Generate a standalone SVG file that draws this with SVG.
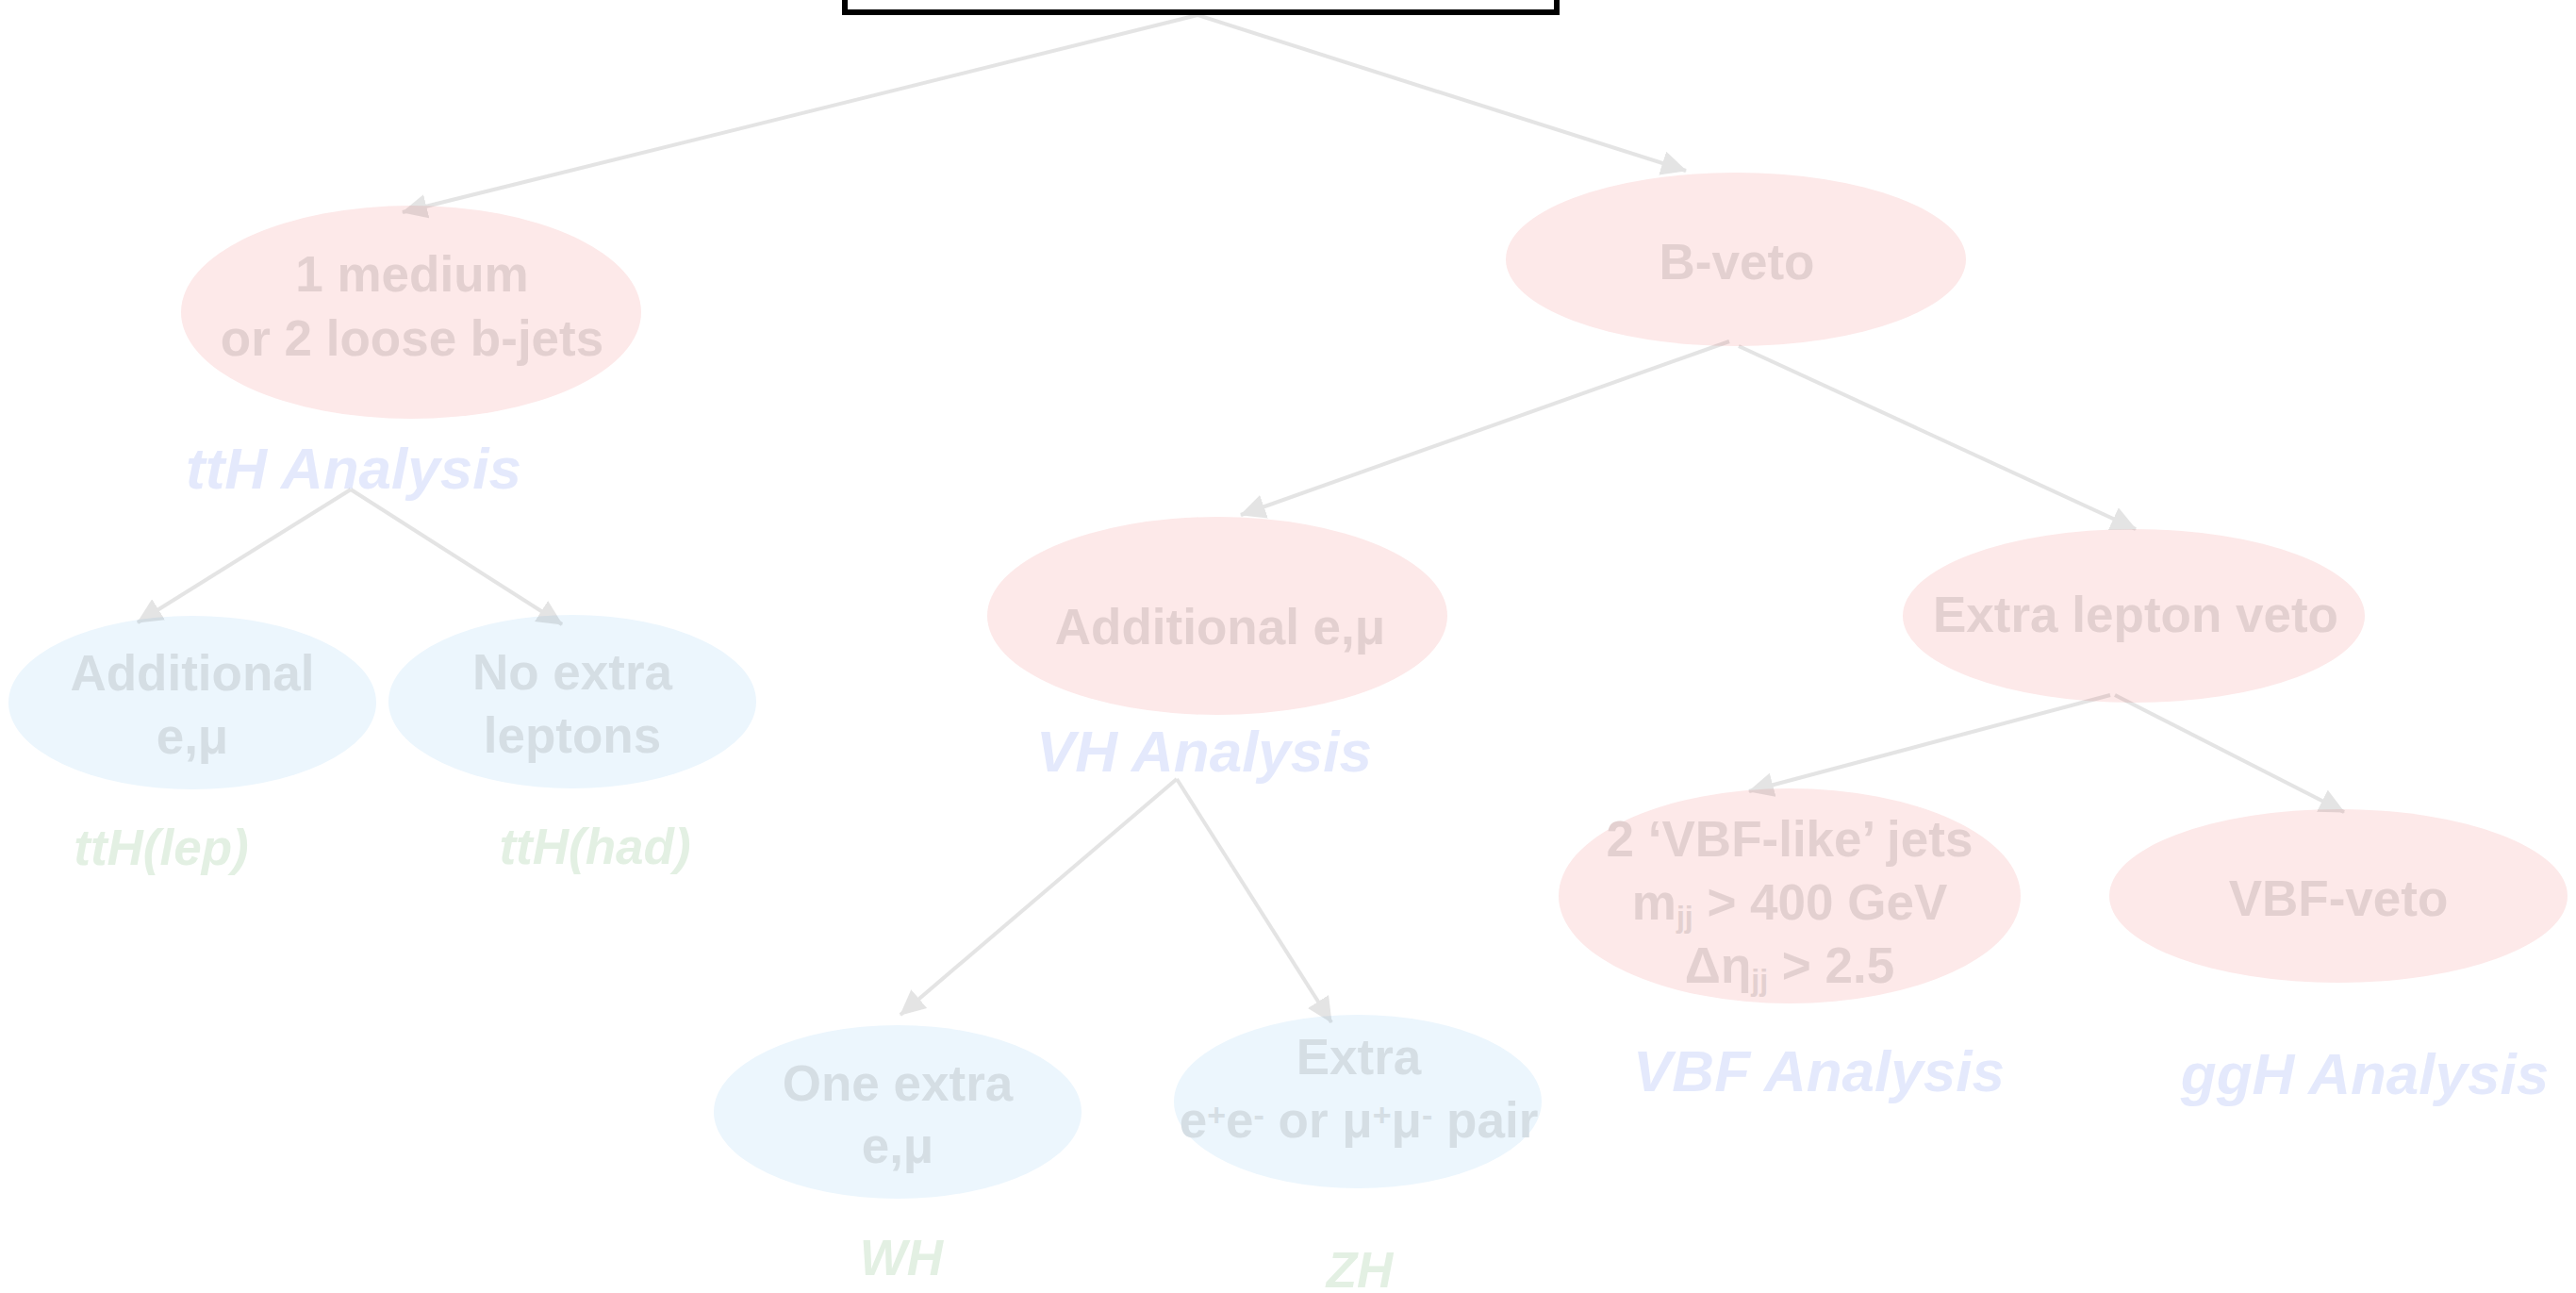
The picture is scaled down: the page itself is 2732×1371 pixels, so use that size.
<svg xmlns="http://www.w3.org/2000/svg" width="2732" height="1371" viewBox="0 0 2732 1371">
  <defs>
    <marker id="arrow" viewBox="0 0 27 26" markerUnits="userSpaceOnUse" markerWidth="27" markerHeight="26" refX="26" refY="13" orient="auto">
      <path d="M0,0 L27,13 L0,26 z" fill="#000"/>
    </marker>
    <style>
      text { font-family: "Liberation Sans", Arial, Helvetica, sans-serif; font-weight: bold; text-anchor: middle; }
      .cut { fill: #fde9e9; }
      .lep { fill: #ecf6fd; }
      .tcut { font-size: 53px; fill: #e3d0d0; }
      .tlep { font-size: 53px; fill: #d5dee4; }
      .ana { font-size: 62px; font-style: italic; fill: #e4e9fc; }
      .chan { font-size: 53px; font-style: italic; fill: #e3f0e3; }
      .sub { font-size: 32px; }
      .sup { font-size: 34px; }
      .wire { fill: none; stroke: #000; stroke-width: 4; marker-end: url(#arrow); }
    </style>
  </defs>

  <rect width="2732" height="1371" fill="#fff"/>

  <!-- selection nodes -->
  <g id="node-bjets">
    <ellipse class="cut" cx="436" cy="331" rx="244" ry="113"/>
    <text class="tcut" x="437" y="309">1 medium</text>
    <text class="tcut" x="437" y="377">or 2 loose b-jets</text>
  </g>
  <g id="label-tth">
    <text class="ana" x="375" y="518">ttH Analysis</text>
  </g>
  <g id="node-tth-lep">
    <ellipse class="lep" cx="204" cy="745" rx="195" ry="92"/>
    <text class="tlep" x="204" y="732">Additional</text>
    <text class="tlep" x="204" y="799">e,μ</text>
  </g>
  <g id="node-tth-had">
    <ellipse class="lep" cx="607" cy="744" rx="195" ry="92"/>
    <text class="tlep" x="607" y="731">No extra</text>
    <text class="tlep" x="607" y="798">leptons</text>
  </g>
  <g id="label-tth-lep">
    <text class="chan" x="171" y="917">ttH(lep)</text>
  </g>
  <g id="label-tth-had">
    <text class="chan" x="631" y="916">ttH(had)</text>
  </g>

  <g id="node-bveto">
    <ellipse class="cut" cx="1841" cy="275" rx="244" ry="92"/>
    <text class="tcut" x="1842" y="296">B-veto</text>
  </g>

  <g id="node-vh">
    <ellipse class="cut" cx="1291" cy="653" rx="244" ry="105"/>
    <text class="tcut" x="1294" y="683">Additional e,μ</text>
  </g>
  <g id="label-vh">
    <text class="ana" x="1277" y="818">VH Analysis</text>
  </g>
  <g id="node-wh">
    <ellipse class="lep" cx="952" cy="1179" rx="195" ry="92"/>
    <text class="tlep" x="952" y="1167">One extra</text>
    <text class="tlep" x="952" y="1233">e,μ</text>
  </g>
  <g id="node-zh">
    <ellipse class="lep" cx="1440" cy="1168" rx="195" ry="92"/>
    <text class="tlep" x="1441" y="1139">Extra</text>
    <text class="tlep" x="1441" y="1206">e<tspan class="sup" dy="-12">+</tspan><tspan dy="12">e</tspan><tspan class="sup" dy="-12">-</tspan><tspan dy="12"> or μ</tspan><tspan class="sup" dy="-12">+</tspan><tspan dy="12">μ</tspan><tspan class="sup" dy="-12">-</tspan><tspan dy="12"> pair</tspan></text>
  </g>
  <g id="label-wh">
    <text class="chan" x="956" y="1352">WH</text>
  </g>
  <g id="label-zh">
    <text class="chan" x="1442" y="1365">ZH</text>
  </g>

  <g id="node-lepveto">
    <ellipse class="cut" cx="2263" cy="653" rx="245" ry="92"/>
    <text class="tcut" x="2265" y="670">Extra lepton veto</text>
  </g>
  <g id="node-vbf">
    <ellipse class="cut" cx="1898" cy="950" rx="245" ry="114"/>
    <text class="tcut" x="1898" y="908">2 ‘VBF-like’ jets</text>
    <text class="tcut" x="1898" y="975">m<tspan class="sub" dy="8">jj</tspan><tspan dy="-8"> &gt; 400 GeV</tspan></text>
    <text class="tcut" x="1898" y="1042">Δη<tspan class="sub" dy="8">jj</tspan><tspan dy="-8"> &gt; 2.5</tspan></text>
  </g>
  <g id="node-vbfveto">
    <ellipse class="cut" cx="2480" cy="950" rx="243" ry="92"/>
    <text class="tcut" x="2480" y="971">VBF-veto</text>
  </g>
  <g id="label-vbf">
    <text class="ana" x="1929" y="1157">VBF Analysis</text>
  </g>
  <g id="label-ggh">
    <text class="ana" x="2508" y="1160">ggH Analysis</text>
  </g>

  <!-- connectors: drawn as one faint layer so crossings do not darken -->
  <g id="connectors" opacity="0.1">
    <path class="wire" d="M1270,16 L427,225"/>
    <path class="wire" d="M1270,16 L1788,181"/>
    <path class="wire" d="M372,519 L146,660"/>
    <path class="wire" d="M372,519 L596,662"/>
    <path class="wire" d="M1834,362 L1316,546"/>
    <path class="wire" d="M1844,367 L2265,561"/>
    <path class="wire" d="M1248,826 L955,1076"/>
    <path class="wire" d="M1248,826 L1412,1084"/>
    <path class="wire" d="M2238,737 L1855,839"/>
    <path class="wire" d="M2243,737 L2486,861"/>
  </g>

  <!-- root box, cut by the top edge -->
  <g id="node-root">
    <rect x="896" y="-200" width="755" height="213" fill="#fff" stroke="#000" stroke-width="6"/>
  </g>
</svg>
